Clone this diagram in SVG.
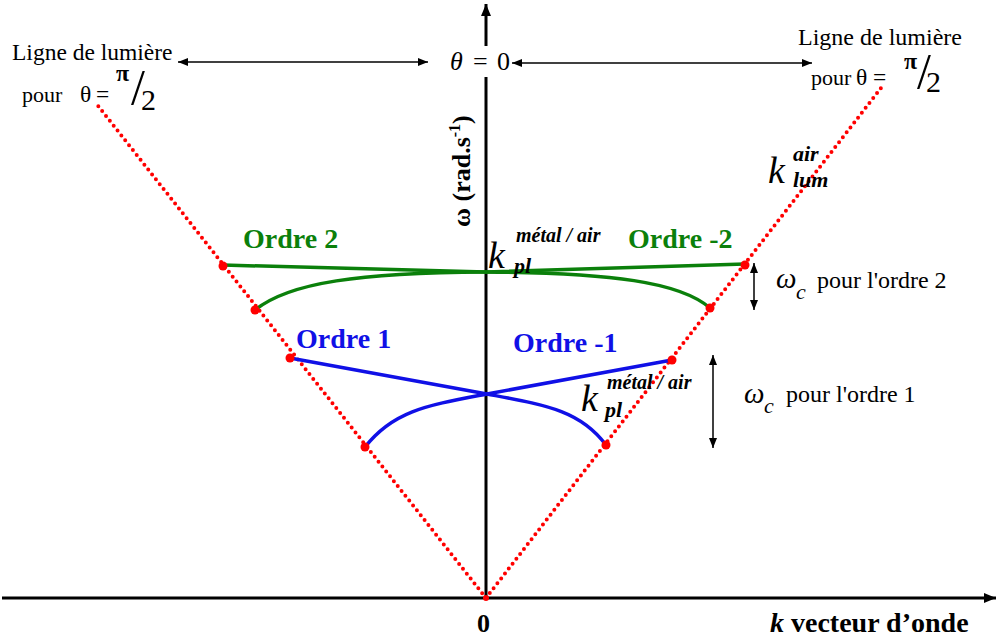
<svg xmlns="http://www.w3.org/2000/svg" width="997" height="639" viewBox="0 0 997 639">
<style>
.t{font-family:"Liberation Serif",Tinos,"Times New Roman","DejaVu Serif",serif;fill:#000}
.b{font-weight:bold}
.i{font-style:italic}
.ax{stroke:#000;stroke-width:3;fill:none}
.thin{stroke:#000;stroke-width:1.5;fill:none}
.lum{stroke:#f00;stroke-width:4;stroke-dasharray:0 6.2;stroke-linecap:round;fill:none}
.g{stroke:#0b800b;stroke-width:3.5;fill:none}
.bl{stroke:#1010e6;stroke-width:3.5;fill:none}
.gt{fill:#0b800b;font-weight:bold;font-family:"Liberation Serif",Tinos,"Times New Roman","DejaVu Serif",serif;font-size:28px}
.bt{fill:#1010e6;font-weight:bold;font-family:"Liberation Serif",Tinos,"Times New Roman","DejaVu Serif",serif;font-size:28px}
.dot{fill:#f00}
</style>
<defs>
<marker id="ah" viewBox="0 0 10 8" refX="10" refY="4" markerWidth="10" markerHeight="8" markerUnits="userSpaceOnUse" orient="auto-start-reverse">
<path d="M0,0 L10,4 L0,8 z" fill="#000"/>
</marker>
<marker id="ahb" viewBox="0 0 12 10" refX="12" refY="5" markerWidth="12" markerHeight="10" markerUnits="userSpaceOnUse" orient="auto">
<path d="M0,0 L12,5 L0,10 z" fill="#000"/>
</marker>
</defs>
<rect width="997" height="639" fill="#fff"/>

<g id="connectors">
<line class="ax" x1="2" y1="598" x2="996" y2="598" marker-end="url(#ahb)"/>
<line class="ax" x1="486" y1="598" x2="486" y2="77"/>
<line class="ax" x1="486" y1="46" x2="486" y2="4" marker-end="url(#ahb)"/>
<line class="thin" x1="178" y1="62" x2="428" y2="62" marker-start="url(#ah)" marker-end="url(#ah)"/>
<line class="thin" x1="512" y1="63" x2="812" y2="63" marker-start="url(#ah)" marker-end="url(#ah)"/>
<line class="thin" x1="754" y1="263" x2="754" y2="310" marker-start="url(#ah)" marker-end="url(#ah)"/>
<line class="thin" x1="713" y1="355" x2="713" y2="448" marker-start="url(#ah)" marker-end="url(#ah)"/>
</g>

<g id="light-lines">
<line class="lum" x1="486" y1="598" x2="95" y2="102"/>
<line class="lum" x1="486" y1="598" x2="881" y2="88"/>
</g>

<g id="ordre2">
<path class="g" d="M223,265 L486,272 L745,264"/>
<path class="g" d="M255,310 C290,282 360,273 486,272 C612,273 680,282 710,308"/>
<text class="gt" x="243" y="248">Ordre 2</text>
<text class="gt" x="628" y="248">Ordre -2</text>
</g>

<g id="ordre1">
<path class="bl" d="M290,358 L487,394 C545,405 580,410 606,445"/>
<path class="bl" d="M672,360 L487,394 C429,405 394,410 365,447"/>
<text class="bt" x="296" y="348">Ordre 1</text>
<text class="bt" x="513" y="352">Ordre -1</text>
</g>

<g id="dots">
<circle class="dot" cx="223" cy="266" r="4.5"/>
<circle class="dot" cx="255" cy="310" r="4.5"/>
<circle class="dot" cx="290" cy="358" r="4.5"/>
<circle class="dot" cx="365" cy="447" r="4.5"/>
<circle class="dot" cx="745" cy="265" r="4.5"/>
<circle class="dot" cx="710" cy="308" r="4.5"/>
<circle class="dot" cx="672" cy="360" r="4.5"/>
<circle class="dot" cx="606" cy="445" r="4.5"/>
<circle class="dot" cx="486" cy="598" r="3"/>
</g>

<g id="label-theta0">
<text class="t" font-size="26" y="70"><tspan class="i" x="450">θ</tspan><tspan x="473">=</tspan><tspan x="497">0</tspan></text>
</g>

<g id="label-left">
<text class="t" font-size="23.5" x="12" y="60">Ligne de lumière</text>
<text class="t" font-size="22" x="22" y="102">pour</text>
<text class="t" font-size="23.5" x="80" y="102">θ</text>
<text class="t" font-size="23.5" x="96" y="102">=</text>
<text class="t b" font-size="24" x="116" y="81">π</text>
<text class="t" font-size="50" x="131" y="104">/</text>
<text class="t" font-size="30" x="141" y="110">2</text>
</g>

<g id="label-right">
<text class="t" font-size="24" x="798" y="45">Ligne de lumière</text>
<text class="t" font-size="22" x="811" y="85">pour</text>
<text class="t" font-size="23.5" x="856" y="85">θ</text>
<text class="t" font-size="23.5" x="873" y="85">=</text>
<text class="t b" font-size="24" x="904" y="69">π</text>
<text class="t" font-size="50" x="917" y="88">/</text>
<text class="t" font-size="30" x="926" y="92">2</text>
</g>

<g id="label-omega">
<text class="t b" font-size="26" transform="rotate(-90 470 227)" x="470" y="227">ω (rad.s<tspan font-size="16" dy="-10">-1</tspan><tspan dy="10">)</tspan></text>
</g>

<g id="label-kpl-top">
<text class="t i" font-size="38" x="488" y="268">k</text>
<text class="t i b" font-size="20" x="516" y="242">métal / air</text>
<text class="t i b" font-size="22" x="514" y="273">pl</text>
</g>

<g id="label-kpl-low">
<text class="t i" font-size="38" x="581" y="411">k</text>
<text class="t i b" font-size="20" x="607" y="389">métal / air</text>
<text class="t i b" font-size="22" x="605" y="417">pl</text>
</g>

<g id="label-klum">
<text class="t i" font-size="38" x="768" y="183">k</text>
<text class="t i b" font-size="22" x="793" y="161">air</text>
<text class="t i b" font-size="22" x="793" y="187">lum</text>
</g>

<g id="label-wc2">
<text class="t i" font-size="29" x="776" y="288">ω</text>
<text class="t i" font-size="22" x="796" y="299">c</text>
<text class="t" font-size="24" x="817" y="288">pour l'ordre 2</text>
</g>

<g id="label-wc1">
<text class="t i" font-size="29" x="744" y="403">ω</text>
<text class="t i" font-size="22" x="764" y="413">c</text>
<text class="t" font-size="24" x="786" y="402">pour l'ordre 1</text>
</g>

<g id="label-xaxis">
<text class="t b" font-size="26" x="477" y="632">0</text>
<text class="t b" font-size="28" x="770" y="632"><tspan class="i">k</tspan> vecteur d’onde</text>
</g>
</svg>
